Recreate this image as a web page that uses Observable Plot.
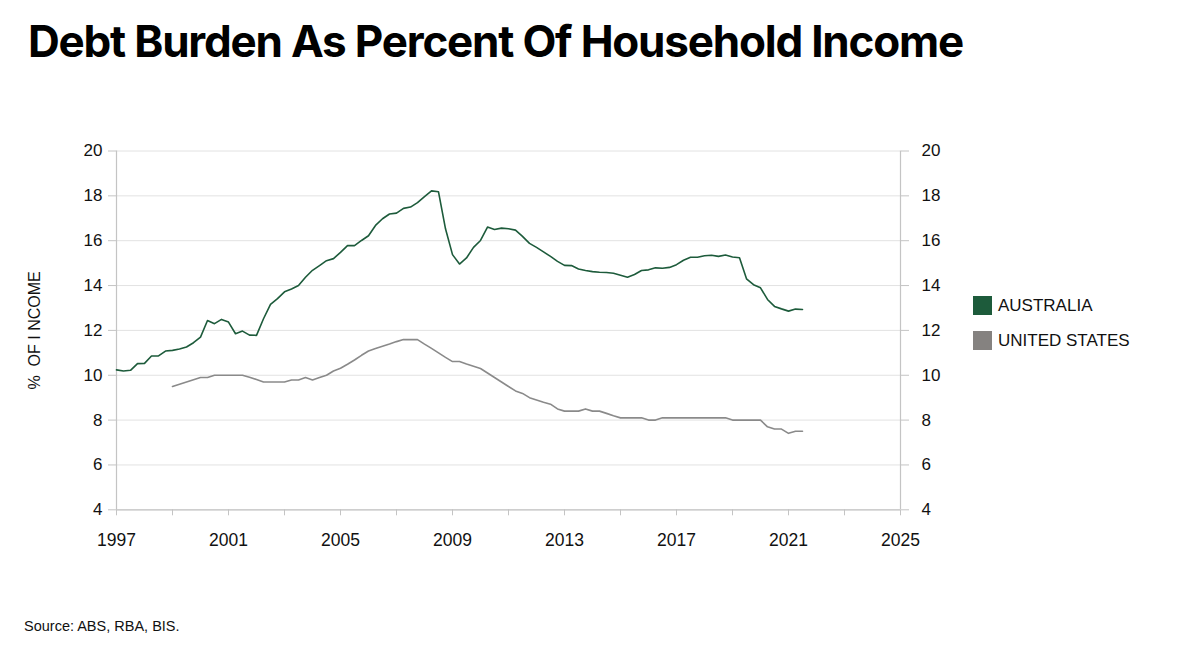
<!DOCTYPE html>
<html>
<head>
<meta charset="utf-8">
<script src="https://cdn.jsdelivr.net/npm/d3@7"></script>
<script src="https://cdn.jsdelivr.net/npm/@observablehq/plot@0.6"></script>
<style>
  html, body { margin: 0; padding: 0; background: #ffffff; }
  #wrap { position: relative; width: 1200px; height: 646px; overflow: hidden; font-family: "Liberation Sans", Arial, sans-serif; color: #111; }
  #title { position: absolute; left: 28px; top: 19px; margin: 0; font-family: Inter, "Liberation Sans", sans-serif; font-weight: 700; font-size: 44px; line-height: 44px; white-space: nowrap; color: #000; }
  #chart { position: absolute; left: 0; top: 100px; }
  #legend { position: absolute; left: 973px; top: 296px; font-size: 17px; }
  .item { display: flex; align-items: center; height: 19px; margin-bottom: 16px; }
  .sw { width: 19px; height: 19px; margin-right: 6px; }
  #source { position: absolute; left: 24px; top: 618px; font-size: 14.5px; white-space: nowrap; }
</style>
</head>
<body>
<div id="wrap">
  <h1 id="title">Debt Burden As Percent Of Household Income</h1>
  <div id="chart"></div>
  <div id="legend"></div>
  <div id="source">Source: ABS, RBA, BIS.</div>
</div>
<script>
// ---- data (quarterly) ----
const seriesNames = ["AUSTRALIA", "UNITED STATES"];
const seriesColors = ["#1d5b3b", "#858280"];
const lineColors = ["#1d5b3b", "#8a8a8a"];

const ausStart = 1997;
const ausValues = [
  10.24, 10.19, 10.22, 10.52, 10.53, 10.86, 10.86, 11.08,
  11.11, 11.17, 11.26, 11.45, 11.70, 12.44, 12.30, 12.49,
  12.37, 11.85, 11.97, 11.79, 11.78, 12.52, 13.16, 13.42,
  13.72, 13.85, 14.00, 14.37, 14.68, 14.89, 15.11, 15.20,
  15.48, 15.78, 15.78, 16.01, 16.22, 16.68, 16.98, 17.19,
  17.23, 17.44, 17.50, 17.70, 17.97, 18.22, 18.18, 16.53,
  15.38, 14.96, 15.23, 15.70, 16.01, 16.61, 16.50, 16.56,
  16.53, 16.47, 16.19, 15.88, 15.70, 15.50, 15.30, 15.08,
  14.90, 14.89, 14.74, 14.67, 14.62, 14.59, 14.58, 14.55,
  14.46, 14.37, 14.49, 14.67, 14.70, 14.79, 14.77, 14.81,
  14.93, 15.13, 15.26, 15.26, 15.33, 15.35, 15.30, 15.36,
  15.27, 15.24, 14.30, 14.04, 13.90, 13.38, 13.07, 12.96,
  12.86, 12.95, 12.93
];

const usStart = 1999;
const usValues = [
  9.50, 9.60, 9.70, 9.80, 9.90, 9.90, 10.00, 10.00,
  10.00, 10.00, 10.00, 9.91, 9.81, 9.70, 9.70, 9.70,
  9.70, 9.79, 9.79, 9.90, 9.79, 9.90, 10.00, 10.19,
  10.31, 10.49, 10.68, 10.89, 11.08, 11.19, 11.29, 11.39,
  11.50, 11.59, 11.59, 11.59, 11.39, 11.20, 11.00, 10.80,
  10.61, 10.61, 10.50, 10.40, 10.30, 10.10, 9.90, 9.70,
  9.50, 9.30, 9.19, 9.00, 8.90, 8.80, 8.71, 8.50,
  8.40, 8.40, 8.40, 8.50, 8.40, 8.40, 8.30, 8.19,
  8.10, 8.10, 8.10, 8.10, 8.00, 8.00, 8.10, 8.10,
  8.10, 8.10, 8.10, 8.10, 8.10, 8.10, 8.10, 8.10,
  8.00, 8.00, 8.00, 8.00, 8.00, 7.70, 7.60, 7.60,
  7.41, 7.50, 7.50
];

const xTicks = [1997, 1999, 2001, 2003, 2005, 2007, 2009, 2011, 2013, 2015, 2017, 2019, 2021, 2023, 2025];
const xLabels = [1997, 2001, 2005, 2009, 2013, 2017, 2021, 2025];
const yTicks = [4, 6, 8, 10, 12, 14, 16, 18, 20];
const yLabel = "%  OF I NCOME";

// ---- build tables ----
const aus = ausValues.map((v, i) => ({year: ausStart + i * 0.25, value: v}));
const us = usValues.map((v, i) => ({year: usStart + i * 0.25, value: v}));

const axisColor = "#c4c4c4";

const chart = Plot.plot({
  width: 1200,
  height: 500,
  marginLeft: 116,
  marginRight: 300,
  marginTop: 50.5,
  marginBottom: 90.7,
  style: {fontFamily: "'Liberation Sans', Arial, sans-serif", fontSize: "17px", color: "#111", background: "transparent", overflow: "visible"},
  x: {domain: [1997, 2025]},
  y: {domain: [4, 20]},
  marks: [
    Plot.gridY(yTicks, {stroke: "#e2e2e2", strokeOpacity: 1, strokeWidth: 1}),
    Plot.ruleY([4], {stroke: axisColor, strokeWidth: 1.2}),
    Plot.ruleX([1997, 2025], {stroke: axisColor, strokeWidth: 1.2}),
    Plot.axisY(yTicks, {anchor: "left", tickSize: 8, tickPadding: 6, stroke: axisColor, fill: "#111",
      label: yLabel, labelAnchor: "center", labelOffset: 88, labelArrow: "none"}),
    Plot.axisY(yTicks, {anchor: "right", tickSize: 8, tickPadding: 13, stroke: axisColor, fill: "#111", label: null}),
    Plot.axisX(xTicks, {anchor: "bottom", tickSize: 6, tickPadding: 18, stroke: axisColor, fill: "#111", fontSize: 17.5,
      tickFormat: d => xLabels.includes(d) ? String(d) : "", label: null}),
    Plot.line(us, {x: "year", y: "value", stroke: lineColors[1], strokeWidth: 1.6}),
    Plot.line(aus, {x: "year", y: "value", stroke: lineColors[0], strokeWidth: 1.6})
  ]
});
document.getElementById("chart").appendChild(chart);

// y-axis label styling
d3.select(chart).selectAll('g[aria-label="y-axis label"] text').attr("font-size", "16px").attr("letter-spacing", "0px");

// legend
const legend = d3.select("#legend");
seriesNames.forEach((name, i) => {
  const it = legend.append("div").attr("class", "item");
  it.append("div").attr("class", "sw").style("background", seriesColors[i]);
  it.append("span").text(name);
});

// fit title width to reference
const title = document.getElementById("title");
const targetW = 935;
const w = title.getBoundingClientRect().width;
const n = title.textContent.length;
title.style.letterSpacing = ((targetW - w) / n).toFixed(2) + "px";
</script>
</body>
</html>
